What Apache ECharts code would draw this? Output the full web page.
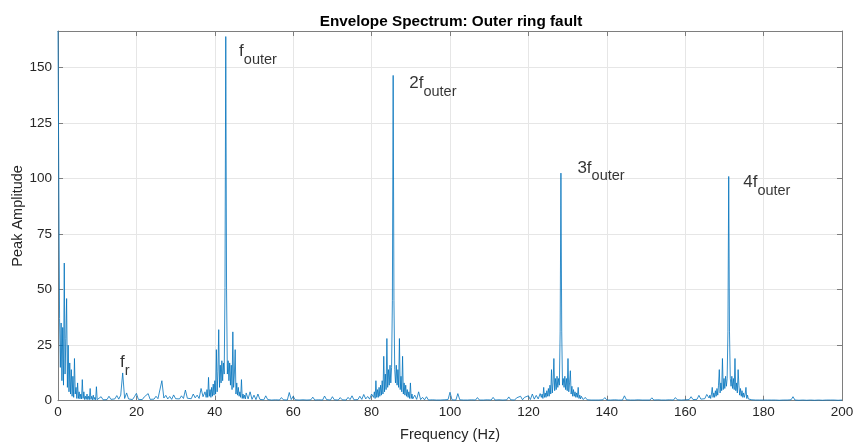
<!DOCTYPE html>
<html>
<head>
<meta charset="utf-8">
<script src="https://cdn.jsdelivr.net/npm/echarts@6/dist/echarts.min.js"></script>
<style>
  html, body { margin: 0; padding: 0; background: #ffffff; }
  #chart { width: 856px; height: 448px; }
</style>
</head>
<body>
<div id="chart"></div>
<script>
// Envelope spectrum of the outer-race fault signal.
// Amplitudes are stored per frequency band; each band has its own bin spacing (Hz).

// 0 – 10 Hz, 0.2 Hz bins (DC and shaft-speed region)
const lowBandStart = 0.0, lowBandStep = 0.2;
const lowBandAmp = [
  166.5, 100, 37, 15, 35, 9, 33, 7, 62, 12,
  28, 46, 6, 25, 4, 17, 3, 14, 2, 11,
  1.5, 19, 3, 6, 1, 8, 1, 4, 0.8, 3,
  0.8, 9.5, 1, 4, 0.5, 2, 0.6, 3, 0.5, 2,
  0.5, 5.5, 0.6, 2, 0.4, 2.5, 0.5, 1.5, 0.4, 6.3,
  0.5
];

// 10.5 – 37.5 Hz, 0.5 Hz bins (includes the shaft rate f_r)
const noiseAStart = 10.5, noiseAStep = 0.5;
const noiseAAmp = [
  0.6, 1.8, 0.4, 1.2, 0.5, 2.0, 0.6, 1.5, 0.8, 2.3,
  0.7, 2.5, 12.5, 1.0, 3.5, 0.8, 1.6, 0.5, 1.8, 3.3,
  0.6, 1.4, 0.5, 1.7, 0.8, 3.2, 0.6, 1.5, 0.7, 2.0,
  0.9, 1.6, 9.0, 1.2, 2.4, 0.8, 1.9, 0.6, 2.6, 0.9,
  1.7, 0.8, 2.2, 1.0, 4.8, 1.1, 2.0, 0.9, 3.0, 1.3,
  2.5, 1.0, 5.5, 1.8, 4.0
];

// 37.8 – 47.8 Hz, 0.2 Hz bins (1st harmonic of BPFO)
const harm1Start = 37.8, harm1Step = 0.2;
const harm1Amp = [
  1.5, 5, 1.5, 10.5, 2, 5, 1.5, 6, 2, 7.5,
  2.5, 9, 3, 23, 4, 13, 32, 6, 16, 8,
  18, 9, 17, 12, 51, 164, 50, 12, 18, 9,
  17, 7, 16, 5, 31, 6, 12, 23, 3, 8,
  2.5, 6, 2, 4, 1.5, 9.5, 1, 3, 1, 2.5,
  0.8
];

// 48 – 80 Hz, 0.5 Hz bins
const noiseBStart = 48.0, noiseBStep = 0.5;
const noiseBAmp = [
  3.5, 0.8, 4.0, 0.6, 2.5, 0.5, 3.0, 0.6, 1.5, 0.4,
  2.2, 0.5, 1.0, 0.3, 1.2, 0.4, 0.9, 0.3, 1.4, 0.4,
  0.8, 0.3, 3.7, 0.5, 2.0, 0.4, 1.1, 0.3, 0.9, 0.4,
  1.3, 0.3, 0.8, 0.4, 1.6, 0.3, 0.9, 0.4, 1.2, 0.3,
  2.1, 0.5, 1.0, 0.3, 1.8, 0.4, 1.0, 0.3, 1.4, 0.4,
  0.9, 0.3, 1.5, 0.5, 2.2, 0.4, 1.2, 0.5, 2.0, 0.6,
  2.8, 0.8, 1.9, 0.7, 3.0
];

// 80.5 – 90.5 Hz, 0.2 Hz bins (2nd harmonic)
const harm2Start = 80.5, harm2Step = 0.2;
const harm2Amp = [
  1.5, 4, 1, 9, 1.5, 5, 1.5, 6, 2, 7,
  2.5, 9, 3, 20, 4, 12, 5, 28, 6, 14,
  7, 16, 8, 15, 45, 146.5, 45, 14, 8, 16,
  7, 14, 6, 28, 5, 11, 4, 20, 3, 8,
  2.5, 7, 2, 5, 1.5, 4, 1, 8, 1, 3,
  0.8
];

// 91 – 123 Hz, 0.5 Hz bins
const noiseCStart = 91.0, noiseCStep = 0.5;
const noiseCAmp = [
  2.5, 0.6, 4.0, 0.5, 1.5, 0.4, 1.8, 0.3, 1.0, 0.4,
  1.3, 0.3, 0.8, 0.3, 1.1, 0.4, 0.9, 0.5, 3.8, 0.4,
  1.0, 0.3, 3.2, 0.4, 0.9, 0.3, 1.2, 0.3, 0.8, 0.4,
  1.0, 0.3, 1.4, 0.3, 0.7, 0.3, 1.1, 0.4, 0.8, 0.3,
  1.5, 0.3, 0.9, 0.4, 1.2, 0.3, 0.8, 0.4, 1.7, 0.4,
  1.0, 0.3, 1.3, 0.5, 2.0, 0.4, 1.5, 0.6, 2.2, 0.5,
  3.0, 0.7, 2.4, 0.8, 3.2
];

// 123.3 – 133.3 Hz, 0.2 Hz bins (3rd harmonic)
const harm3Start = 123.3, harm3Step = 0.2;
const harm3Amp = [
  1.5, 3, 1, 6, 1.5, 3.5, 1.5, 4.5, 2, 5.5,
  2, 7, 3, 14, 3.5, 8, 19, 4.5, 10, 5,
  11, 6, 10, 7, 31, 102.5, 31, 7, 10, 6,
  11, 5, 10, 4.5, 19, 4, 8, 13.5, 3, 6.5,
  2, 5, 2, 4, 1.5, 3.5, 1.5, 6, 1, 2.5,
  0.8
];

// 133.5 – 165.5 Hz, 0.5 Hz bins
const noiseDStart = 133.5, noiseDStep = 0.5;
const noiseDAmp = [
  2.0, 0.5, 1.5, 0.4, 1.2, 0.3, 0.9, 0.3, 1.1, 0.3,
  0.8, 0.4, 1.4, 0.3, 0.9, 0.3, 1.0, 0.4, 0.7, 0.3,
  1.1, 0.3, 2.2, 0.4, 0.8, 0.3, 1.0, 0.3, 0.7, 0.4,
  1.2, 0.3, 0.8, 0.3, 0.9, 0.3, 1.3, 0.3, 0.7, 0.4,
  1.0, 0.3, 0.8, 0.3, 1.1, 0.4, 0.9, 0.3, 1.4, 0.4,
  0.8, 0.3, 1.2, 0.4, 1.0, 0.5, 1.8, 0.5, 1.3, 0.6,
  2.4, 0.7, 1.6, 0.9, 2.8
];

// 166.1 – 176.1 Hz, 0.2 Hz bins (4th harmonic)
const harm4Start = 166.1, harm4Step = 0.2;
const harm4Amp = [
  1.2, 2.5, 1, 3, 6, 1.5, 3.5, 1.5, 4.5, 2,
  5.5, 2.5, 7, 14, 3.5, 8, 4.5, 19, 5, 10,
  5.5, 11, 6.5, 10, 31, 101, 31, 10, 6.5, 11,
  5.5, 10, 5, 19, 4.5, 8, 3.5, 14, 7, 2.5,
  5.5, 2, 4.5, 1.5, 3.5, 1.5, 3, 6, 1, 2.5,
  0.8
];

// 176.5 – 200 Hz, 0.5 Hz bins
const noiseEStart = 176.5, noiseEStep = 0.5;
const noiseEAmp = [
  1.5, 0.4, 1.2, 0.3, 0.9, 0.3, 0.7, 0.3, 0.8, 0.3,
  0.6, 0.3, 0.9, 0.3, 0.7, 0.2, 0.6, 0.3, 0.8, 0.3,
  0.6, 0.4, 1.8, 0.3, 0.7, 0.2, 0.6, 0.3, 0.8, 0.2,
  0.5, 0.3, 0.7, 0.2, 0.6, 0.3, 0.5, 0.2, 0.7, 0.3,
  0.6, 0.3, 1.1, 0.3, 0.6, 0.2, 0.7, 0.3
];

// Axis ticks
const freqTicks = [0, 20, 40, 60, 80, 100, 120, 140, 160, 180, 200];
const ampTicks = [0, 25, 50, 75, 100, 125, 150];
const ampMax = 166.5;

// Peak annotations: main text, subscript, anchor (Hz, amplitude)
const noteMain = ['f', '2f', '3f', '4f', 'f'];
const noteSub = ['outer', 'outer', 'outer', 'outer', 'r'];
const noteFreq = [46.2, 89.6, 132.5, 174.8, 15.8];
const noteAmp = [161.1, 146.7, 108.7, 102.1, 21.0];

const bands = [
  [lowBandStart, lowBandStep, lowBandAmp],
  [noiseAStart, noiseAStep, noiseAAmp],
  [harm1Start, harm1Step, harm1Amp],
  [noiseBStart, noiseBStep, noiseBAmp],
  [harm2Start, harm2Step, harm2Amp],
  [noiseCStart, noiseCStep, noiseCAmp],
  [harm3Start, harm3Step, harm3Amp],
  [noiseDStart, noiseDStep, noiseDAmp],
  [harm4Start, harm4Step, harm4Amp],
  [noiseEStart, noiseEStep, noiseEAmp]
];

const spectrum = [];
bands.forEach(([start, step, amps]) => {
  amps.forEach((a, i) => spectrum.push([+(start + i * step).toFixed(2), a]));
});

const notes = noteMain.map((m, i) => ({
  value: [noteFreq[i], noteAmp[i]],
  label: { formatter: '{m|' + m + '}{s|' + noteSub[i] + '}' }
}));

const FONT = 'Liberation Sans, Arial, Helvetica, sans-serif';
const AXIS_COLOR = '#7e7e7e';
const TEXT_COLOR = '#262626';
const GRID_COLOR = '#e6e6e6';

const xMin = freqTicks[0], xMax = freqTicks[freqTicks.length - 1];
const xStep = freqTicks[1] - freqTicks[0];
const yStep = ampTicks[1] - ampTicks[0];

function frameAxis(pos) {
  return {
    type: 'value', position: pos,
    axisLine: { show: true, onZero: false, lineStyle: { color: AXIS_COLOR, width: 1 } },
    axisTick: { show: true, inside: true, length: 5, lineStyle: { color: AXIS_COLOR } },
    axisLabel: { show: false },
    splitLine: { show: false }
  };
}

const chart = echarts.init(document.getElementById('chart'), null, { renderer: 'canvas' });
chart.setOption({
  animation: false,
  backgroundColor: '#ffffff',
  title: {
    text: 'Envelope Spectrum: Outer ring fault',
    left: 446, top: 9, textAlign: 'center',
    textStyle: { fontFamily: FONT, fontSize: 15.3, fontWeight: 'bold', color: '#000000' }
  },
  grid: { left: 58, right: 14, top: 31, bottom: 47.3, containLabel: false, outerBoundsMode: 'none' },
  xAxis: [
    {
      type: 'value', min: xMin, max: xMax, interval: xStep,
      name: 'Frequency (Hz)', nameLocation: 'middle', nameGap: 27, nameMoveOverlap: false,
      nameTextStyle: { fontFamily: FONT, fontSize: 14.5, color: TEXT_COLOR },
      axisLine: { show: true, onZero: false, lineStyle: { color: AXIS_COLOR, width: 1 } },
      axisTick: { show: true, inside: true, length: 5, lineStyle: { color: AXIS_COLOR } },
      axisLabel: { fontFamily: FONT, fontSize: 13.5, color: TEXT_COLOR, margin: 5 },
      splitLine: { show: true, lineStyle: { color: GRID_COLOR, width: 1 } }
    },
    Object.assign(frameAxis('top'), { min: xMin, max: xMax, interval: xStep })
  ],
  yAxis: [
    {
      type: 'value', min: 0, max: ampMax, interval: yStep,
      name: 'Peak Amplitude', nameLocation: 'middle', nameGap: 33, nameMoveOverlap: false,
      nameTextStyle: { fontFamily: FONT, fontSize: 14.5, color: TEXT_COLOR },
      axisLine: { show: true, onZero: false, lineStyle: { color: AXIS_COLOR, width: 1 } },
      axisTick: { show: true, inside: true, length: 5, lineStyle: { color: AXIS_COLOR } },
      axisLabel: { fontFamily: FONT, fontSize: 13.5, color: TEXT_COLOR, margin: 6, showMaxLabel: false },
      splitLine: { show: true, lineStyle: { color: GRID_COLOR, width: 1 } }
    },
    Object.assign(frameAxis('right'), { min: 0, max: ampMax, interval: yStep })
  ],
  series: [
    {
      name: 'Envelope spectrum',
      type: 'line',
      data: spectrum,
      showSymbol: false,
      sampling: null,
      lineStyle: { color: '#0072BD', width: 0.8 },
      emphasis: { disabled: true },
      z: 3
    },
    {
      name: 'Peak labels',
      type: 'scatter',
      data: notes,
      symbolSize: 0,
      silent: true,
      z: 4,
      label: {
        show: true,
        position: [0, 0],
        align: 'left',
        verticalAlign: 'top',
        rich: {
          m: { fontFamily: FONT, fontSize: 17, color: '#000000', lineHeight: 20, verticalAlign: 'top' },
          s: { fontFamily: FONT, fontSize: 14.5, color: '#000000', lineHeight: 24.6, verticalAlign: 'bottom' }
        }
      }
    }
  ]
});
</script>
</body>
</html>
